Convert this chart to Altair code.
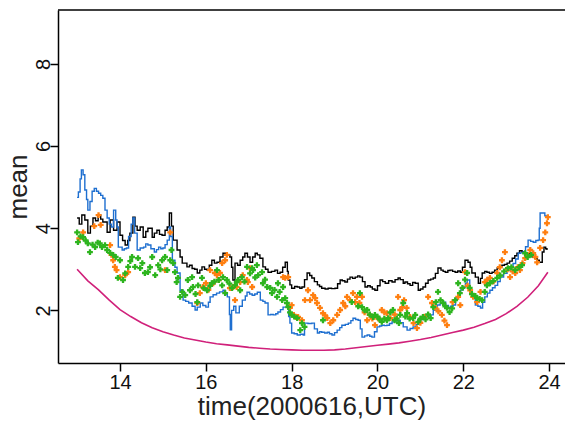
import altair as alt
import pandas as pd

# ---------------- data ----------------
black_x = [13.00,13.05,13.11,13.18,13.25,13.31,13.37,13.43,13.49,13.55,13.60,13.70,13.77,13.85,13.93,14.00,14.06,14.12,14.18,14.23,
           14.30,14.35,14.40,14.47,14.54,14.60,14.65,14.75,14.80,14.86,14.92,14.98,15.05,15.10,15.15,15.20,15.24,15.33,15.40,15.45,
           15.56,15.62,15.68,15.74,15.80,15.86,15.91,15.97,16.03,16.08,16.14,16.20,16.26,16.33,16.40,16.48,16.56,16.60,16.63,16.68,
           16.74,16.80,16.86,16.91,16.97,17.03,17.09,17.15,17.20,17.26,17.33,17.39,17.45,17.53,17.61,17.67,17.73,17.79,17.85,17.90,
           17.92,17.96,18.00,18.07,18.13,18.19,18.24,18.30,18.36,18.42,18.47,18.53,18.60,18.65,18.70,18.78,18.85,18.93,19.01,19.07,
           19.13,19.18,19.24,19.30,19.36,19.42,19.48,19.54,19.59,19.65,19.71,19.77,19.83,19.88,19.94,20.00,20.06,20.12,20.18,20.26,
           20.34,20.41,20.48,20.53,20.60,20.64,20.70,20.76,20.82,20.88,20.95,21.00,21.06,21.12,21.18,21.24,21.30,21.35,21.41,21.48,
           21.53,21.58,21.64,21.69,21.75,21.81,21.87,21.93,21.98,22.04,22.11,22.16,22.20,22.28,22.35,22.40,22.44,22.50,22.55,22.61,
           22.67,22.73,22.79,22.85,22.90,22.96,23.02,23.08,23.14,23.20,23.25,23.31,23.37,23.44,23.50,23.56,23.62,23.67,23.72,23.77,
           23.84,23.88,23.92,23.95]
black_y = [4.25,4.10,4.32,4.20,3.88,4.05,4.25,4.18,4.32,4.22,4.15,3.90,4.20,3.95,4.15,3.83,3.70,3.59,3.70,3.88,
           4.27,4.05,3.95,4.03,3.78,3.92,4.00,3.78,3.88,3.95,3.85,3.83,3.95,4.03,4.37,4.05,3.71,3.47,3.30,3.15,
           3.06,3.10,3.02,3.00,2.91,2.98,3.06,3.00,2.98,3.10,3.22,3.15,3.17,3.30,3.39,3.35,3.30,3.05,2.74,3.15,
           3.10,3.22,3.30,3.39,3.30,3.17,3.30,3.39,3.35,3.27,3.06,3.00,2.93,2.95,2.98,2.90,2.93,3.05,3.17,2.95,
           2.74,2.62,2.54,2.58,2.57,2.54,2.57,2.75,2.91,2.85,2.79,2.70,2.62,2.58,2.54,2.52,2.54,2.53,2.54,2.65,
           2.74,2.72,2.69,2.76,2.81,2.78,2.81,2.84,2.81,2.70,2.57,2.60,2.57,2.52,2.49,2.60,2.74,2.70,2.66,2.72,
           2.69,2.75,2.79,2.75,2.66,2.69,2.65,2.61,2.68,2.66,2.49,2.52,2.57,2.66,2.74,2.76,2.79,2.90,3.03,2.98,
           2.95,2.93,2.97,2.98,2.95,2.93,2.96,2.93,3.05,3.22,3.17,3.05,2.91,2.81,2.66,2.78,2.91,2.95,2.93,2.90,
           2.93,2.98,3.03,3.06,3.10,3.12,3.15,3.20,3.27,3.33,3.39,3.45,3.42,3.30,3.38,3.35,3.30,3.27,3.22,3.17,
           3.42,3.54,3.50,3.47]

blue_x = [13.00,13.03,13.07,13.10,13.14,13.18,13.22,13.25,13.30,13.35,13.40,13.45,13.50,13.55,13.60,13.65,13.70,13.75,13.80,13.85,
          13.90,13.93,13.96,14.05,14.10,14.15,14.20,14.26,14.30,14.34,14.40,14.47,14.55,14.60,14.65,14.72,14.80,14.85,14.90,14.95,
          15.00,15.05,15.10,15.15,15.18,15.22,15.28,15.33,15.40,15.47,15.53,15.60,15.68,15.75,15.80,15.87,15.93,16.00,16.06,16.10,
          16.17,16.25,16.32,16.40,16.45,16.50,16.55,16.57,16.60,16.65,16.70,16.78,16.85,16.92,16.96,17.02,17.08,17.14,17.20,17.27,
          17.33,17.38,17.45,17.51,17.57,17.63,17.68,17.74,17.80,17.88,17.93,17.96,18.00,18.06,18.13,18.20,18.27,18.30,18.38,18.47,
          18.53,18.60,18.65,18.70,18.77,18.83,18.88,18.94,19.00,19.06,19.12,19.17,19.25,19.32,19.38,19.43,19.49,19.55,19.60,19.64,
          19.70,19.76,19.82,19.87,19.93,19.99,20.05,20.10,20.16,20.22,20.28,20.34,20.40,20.46,20.53,20.60,20.69,20.76,20.83,20.90,
          20.95,21.00,21.06,21.15,21.23,21.30,21.39,21.46,21.53,21.59,21.65,21.70,21.76,21.82,21.88,21.94,22.00,22.05,22.09,22.15,
          22.20,22.28,22.34,22.40,22.45,22.50,22.56,22.62,22.68,22.74,22.80,22.86,22.94,23.02,23.09,23.16,23.22,23.28,23.33,23.39,
          23.45,23.51,23.57,23.63,23.69,23.74,23.77,23.79,23.86,23.90,23.95]
blue_y = [4.75,4.88,5.20,5.42,5.30,4.93,4.70,4.44,4.65,4.90,4.97,4.90,4.85,4.80,4.73,4.44,4.25,4.10,4.03,4.44,
          4.20,4.03,3.54,3.47,3.50,3.52,3.80,4.10,4.25,3.88,3.47,3.52,3.54,3.62,3.59,3.50,3.42,3.48,3.54,3.50,
          3.52,3.60,3.71,4.03,3.80,3.22,3.05,2.91,2.49,2.25,2.22,2.18,2.10,2.01,2.08,2.18,2.12,2.08,2.20,2.33,
          2.38,2.42,2.45,2.49,2.40,2.33,1.90,1.53,2.00,2.10,1.94,2.10,2.25,2.35,2.44,2.40,2.37,2.40,2.44,2.25,
          2.22,2.18,1.89,1.90,1.89,1.92,1.96,2.02,2.08,2.08,1.85,1.69,1.45,1.43,1.40,1.42,1.40,1.69,1.68,1.69,
          1.55,1.45,1.48,1.47,1.45,1.47,1.43,1.40,1.46,1.52,1.58,1.64,1.66,1.69,1.75,1.81,1.78,1.76,1.55,1.35,
          1.38,1.40,1.37,1.35,1.48,1.60,1.62,1.64,1.63,1.64,1.68,1.72,1.74,1.76,1.70,1.60,1.52,1.56,1.60,1.66,
          1.72,1.78,1.84,1.86,1.89,2.00,2.13,2.17,2.20,2.12,2.06,2.10,2.13,2.28,2.42,2.50,2.57,2.66,2.74,2.50,
          2.33,2.13,2.10,2.06,2.20,2.33,2.42,2.49,2.55,2.61,2.70,2.81,2.90,2.97,3.05,3.14,3.25,3.39,3.40,3.42,
          3.55,3.71,3.68,3.66,3.70,3.71,4.00,4.37,4.37,4.30,4.27]

green_x = [13.00,13.02,13.08,13.14,13.20,13.25,13.30,13.36,13.42,13.48,13.53,13.58,13.65,13.70,13.77,13.84,13.90,13.95,14.00,14.07,
           14.12,14.19,14.24,14.28,14.35,14.42,14.47,14.52,14.58,14.65,14.70,14.75,14.82,14.89,14.94,14.98,15.05,15.10,15.17,15.20,
           15.24,15.28,15.32,15.35,15.40,15.45,15.52,15.58,15.63,15.68,15.70,15.76,15.80,15.82,15.91,15.95,16.03,16.10,16.14,16.20,
           16.26,16.30,16.38,16.40,16.45,16.49,16.55,16.61,16.68,16.72,16.75,16.80,16.84,16.90,16.96,17.03,17.08,17.10,17.15,17.19,
           17.22,17.31,17.33,17.38,17.43,17.50,17.54,17.60,17.66,17.68,17.72,17.78,17.80,17.85,17.89,17.92,17.96,18.00,18.06,18.13,
           18.20,18.24,18.30,18.73,19.40,19.55,19.59,19.64,19.70,19.76,19.82,19.90,19.94,20.00,20.05,20.10,20.16,20.22,20.25,20.30,
           20.36,20.40,20.45,20.50,20.53,20.60,20.65,20.69,20.75,20.83,20.88,20.95,21.00,21.06,21.12,21.18,21.24,21.30,21.36,21.41,
           21.47,21.53,21.58,21.62,21.68,21.74,21.81,21.88,21.92,21.98,22.04,22.09,22.15,22.20,22.28,22.32,22.38,22.44,22.50,22.55,
           22.62,22.70,22.79,22.86,22.95,23.04,23.12,23.21,23.30,23.37,23.44,23.50,23.58]
green_y = [3.90,3.66,3.80,3.78,3.70,3.63,3.42,3.60,3.54,3.65,3.63,3.54,3.59,3.47,3.40,3.35,3.30,2.79,3.22,2.74,
           2.90,3.06,3.20,3.30,3.06,3.27,3.03,3.15,2.91,2.93,3.05,3.30,2.86,3.10,3.00,3.22,3.30,2.98,3.22,3.47,
           3.15,2.93,2.69,2.79,2.33,2.45,2.37,2.74,2.49,2.81,2.57,2.40,2.20,2.61,2.79,2.54,2.49,2.60,2.66,2.70,
           2.98,2.74,2.61,2.81,2.42,2.74,2.65,2.54,2.61,2.69,2.74,2.49,2.81,2.70,3.06,2.90,3.03,2.98,2.80,3.10,
           2.86,2.93,2.66,2.75,2.57,2.55,2.42,2.50,2.33,2.66,2.45,2.25,2.57,2.30,2.18,2.08,1.95,1.89,1.85,1.81,
           1.52,1.69,1.60,1.76,2.20,2.10,2.42,2.08,2.00,2.01,1.90,1.84,1.89,1.85,1.78,1.72,1.80,1.76,1.81,1.95,
           2.01,1.76,1.80,1.69,1.89,2.18,1.85,1.93,1.80,1.81,1.89,1.72,1.80,1.84,1.78,1.90,1.81,2.08,2.20,2.45,
           2.25,2.18,2.10,2.06,1.96,2.05,2.25,2.66,2.42,2.55,2.75,2.91,2.55,2.40,2.35,2.30,2.28,2.25,2.45,2.61,
           2.66,2.72,2.79,2.85,2.95,3.03,3.05,2.98,3.05,3.10,3.39,3.30,3.35]

orange_x = [13.05,13.14,13.40,13.50,13.55,13.77,13.80,13.84,13.88,13.92,14.00,14.12,14.19,15.05,15.17,15.80,15.86,15.93,16.00,16.06,
            16.10,16.17,16.21,16.26,16.30,16.33,16.38,16.45,16.49,16.56,16.63,16.68,16.72,16.80,16.86,16.96,16.98,17.03,17.08,17.80,
            17.85,17.92,17.96,18.00,18.05,18.10,18.15,18.24,18.31,18.38,18.43,18.50,18.55,18.59,18.66,18.73,18.78,18.83,18.90,18.97,
            19.06,19.13,19.20,19.25,19.29,19.36,19.43,19.48,19.52,19.58,19.64,19.70,19.76,19.82,19.88,19.94,20.02,20.10,20.16,20.22,
            20.30,20.40,20.48,20.53,20.58,20.62,20.68,20.76,20.84,20.92,21.00,21.10,21.18,21.27,21.35,21.42,21.50,21.56,21.62,21.75,
            21.88,21.93,22.04,22.10,22.16,22.23,22.32,22.40,22.50,22.56,22.62,22.70,22.79,22.85,22.90,22.97,23.03,23.09,23.15,23.21,
            23.27,23.32,23.38,23.44,23.50,23.56,23.63,23.68,23.72,23.79,23.86,23.91,23.95,23.97]
orange_y = [3.75,3.90,4.05,4.32,4.08,3.59,3.35,3.22,3.06,2.98,2.81,2.86,2.93,2.98,3.90,2.18,2.42,2.57,2.66,2.50,
            2.98,2.66,2.91,2.86,2.74,2.91,3.15,3.22,3.35,2.54,2.57,2.25,2.57,2.69,2.86,2.74,2.69,3.03,2.57,2.81,
            2.79,2.81,2.06,2.13,1.89,1.84,1.84,1.76,2.25,2.49,2.25,2.37,2.30,2.18,2.06,1.93,1.88,1.81,1.69,1.76,
            1.89,2.01,2.18,2.10,2.33,2.25,2.42,2.20,2.33,2.18,2.33,1.95,1.76,1.89,1.80,1.64,1.80,2.01,1.95,1.93,
            1.81,1.90,2.33,2.01,2.08,2.25,2.06,1.84,1.69,1.57,1.70,1.85,2.33,2.18,2.06,1.98,1.89,1.75,1.64,2.20,
            2.33,2.13,2.93,2.60,2.49,2.33,2.20,2.45,2.69,2.75,2.79,2.70,2.91,3.05,3.22,3.42,3.00,2.81,2.95,2.91,
            3.05,2.98,3.15,3.27,3.35,3.47,3.39,3.30,3.17,3.52,3.71,3.90,4.12,4.27]

magenta_x = [13.00,13.25,13.50,13.75,14.00,14.25,14.50,14.75,15.00,15.25,15.50,15.75,16.00,16.25,16.50,16.75,17.00,17.25,17.50,17.75,
             18.00,18.25,18.50,18.75,19.00,19.25,19.50,19.75,20.00,20.25,20.50,20.75,21.00,21.25,21.50,21.75,22.00,22.25,22.50,22.75,
             23.00,23.25,23.50,23.75,23.97]
magenta_y = [3.00,2.72,2.50,2.25,2.02,1.85,1.70,1.58,1.48,1.40,1.33,1.28,1.23,1.19,1.16,1.13,1.10,1.08,1.06,1.05,
             1.04,1.03,1.03,1.03,1.04,1.06,1.09,1.12,1.15,1.18,1.21,1.25,1.29,1.34,1.40,1.46,1.52,1.59,1.68,1.78,
             1.92,2.10,2.32,2.60,2.93]

x_ticks = [14, 16, 18, 20, 22, 24]
y_ticks = [2, 4, 6, 8]
x_title = "time(2000616,UTC)"
y_title = "mean"

# ---------------- chart ----------------
W, H = 507, 353
FONT = "Liberation Sans"
xscale = alt.Scale(domain=[12.555, 24.37], nice=False, zero=False)
yscale = alt.Scale(domain=[0.72, 9.31], nice=False, zero=False)

xaxis = alt.Axis(values=x_ticks, title=x_title, grid=False, domainColor="black", domainWidth=1.5,
                 tickColor="black", tickWidth=1.5, tickSize=8, labelFont=FONT, labelFontSize=20,
                 labelColor="#111111", labelPadding=1, titleFont=FONT, titleFontSize=26,
                 titleFontWeight="normal", titleColor="#222222", titlePadding=1)
yaxis = alt.Axis(values=y_ticks, title=y_title, grid=False, domainColor="black", domainWidth=1.5,
                 tickColor="black", tickWidth=1.5, tickSize=8, labelFont=FONT, labelFontSize=20,
                 labelColor="#111111", labelAngle=270, labelAlign="center", labelBaseline="alphabetic",
                 labelPadding=1, titleFont=FONT, titleFontSize=26, titleFontWeight="normal",
                 titleColor="#222222", titlePadding=2)


def df(xs, ys):
    return pd.DataFrame({"x": xs, "y": ys})


def enc(ch):
    return ch.encode(
        x=alt.X("x:Q", scale=xscale, axis=xaxis),
        y=alt.Y("y:Q", scale=yscale, axis=yaxis),
    )


magenta = enc(alt.Chart(df(magenta_x, magenta_y)).mark_line(color="#D0207A", strokeWidth=1.6))
black = enc(alt.Chart(df(black_x, black_y)).mark_line(color="#000000", strokeWidth=1.4,
                                                      interpolate="step-after"))
blue = enc(alt.Chart(df(blue_x, blue_y)).mark_line(color="#1E6FD0", strokeWidth=1.4,
                                                   interpolate="step-after"))
orange = enc(alt.Chart(df(orange_x, orange_y)).mark_point(shape="cross", filled=True, size=34,
                                                          color="#FF7F10", opacity=1))
green = enc(alt.Chart(df(green_x, green_y)).mark_point(shape="cross", filled=True, size=34,
                                                       color="#2DB41E", opacity=1))

top = alt.Chart(pd.DataFrame({"a": [0]})).mark_rule(color="black", strokeWidth=1.5).encode(
    x=alt.value(0), x2=alt.value(W), y=alt.value(0))

chart = alt.layer(magenta, black, blue, orange, green, top).properties(
    width=W, height=H,
    autosize=alt.AutoSizeParams(type="none"),
    padding={"left": 58, "top": 10, "right": 0, "bottom": 62},
    background="white",
).configure_view(stroke=None)

chart.save("out.html", embed_options={"renderer": "svg", "actions": False})
